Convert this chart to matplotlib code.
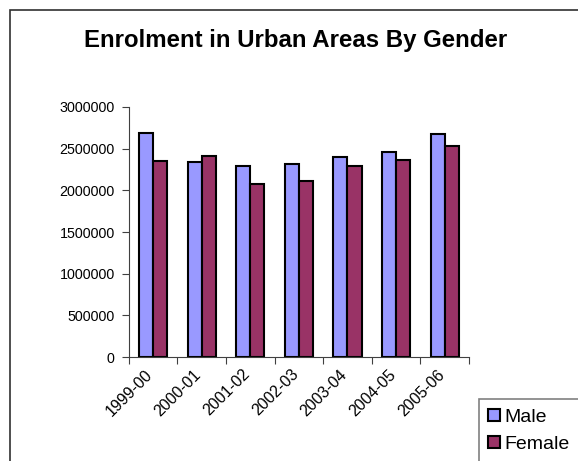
import numpy as np
import matplotlib.pyplot as plt
import matplotlib.transforms as mtransforms
from matplotlib.patches import Rectangle

plt.rcParams['font.family'] = ['Liberation Sans', 'DejaVu Sans']

# Данные
years = ['1999-00', '2000-01', '2001-02', '2002-03', '2003-04', '2004-05', '2005-06']
male = [2690000, 2336000, 2292000, 2312000, 2400000, 2456000, 2680000]
female = [2356000, 2416000, 2072000, 2116000, 2288000, 2360000, 2532000]
yticks = [0, 500000, 1000000, 1500000, 2000000, 2500000, 3000000]

W, H = 578, 461
fig = plt.figure(figsize=(W / 100, H / 100), dpi=100)
ax = fig.add_axes([128.7 / W, 1 - 357 / H, (469 - 128.7) / W, 250 / H])

x = np.arange(len(years))
bw = 0.29
ax.bar(x - bw / 2, male, bw, color='#9999FF', edgecolor='black', linewidth=1.5, label='Male')
ax.bar(x + bw / 2, female, bw, color='#993366', edgecolor='black', linewidth=1.5, label='Female')

ax.set_xlim(-0.5, len(years) - 0.5)
ax.set_ylim(0, 3000000)
ax.set_yticks(yticks)
ax.set_yticklabels([str(v) for v in yticks], fontsize=10.3)

# метки по центрам, засечки по границам групп
ax.set_xticks(np.arange(len(years) + 1) - 0.5)
ax.set_xticklabels([])
ax.set_xticks(x, minor=True)
ax.set_xticklabels(years, minor=True, rotation=45, ha='right', rotation_mode='anchor', fontsize=11.5)
ax.tick_params(axis='x', which='minor', length=0, pad=7)
ax.tick_params(axis='x', which='major', length=5, direction='out', color='#404040')
ax.tick_params(axis='y', length=5, direction='out', color='#404040', pad=5)
shift = mtransforms.ScaledTranslation(-8 / 100, 0, fig.dpi_scale_trans)
for lab in ax.get_xticklabels(minor=True):
    lab.set_transform(lab.get_transform() + shift)

for s in ['top', 'right']:
    ax.spines[s].set_visible(False)
for s in ['left', 'bottom']:
    ax.spines[s].set_color('#404040')

fig.text(296 / W, 1 - 40 / H, 'Enrolment in Urban Areas By Gender', ha='center', va='center',
         fontsize=17.3, fontweight='bold')

# рамка диаграммы
fig.patches.append(Rectangle((10 / W, -0.1), 1.2, 1 - 10 / H + 0.1, transform=fig.transFigure,
                             fill=False, edgecolor='#303030', linewidth=1.2))
# рамка легенды
fig.patches.append(Rectangle((479 / W, -0.1), 0.5, 1 - 399 / H + 0.1, transform=fig.transFigure,
                             fill=False, edgecolor='#808080', linewidth=1.2))

fig.legend(loc='upper left', bbox_to_anchor=(484 / W, 1 - 405 / H), frameon=False, fontsize=14,
           handlelength=0.6, handleheight=0.6, handletextpad=0.25, labelspacing=0.5,
           borderpad=0.2, borderaxespad=0)

fig.savefig('out.png', dpi=100)
